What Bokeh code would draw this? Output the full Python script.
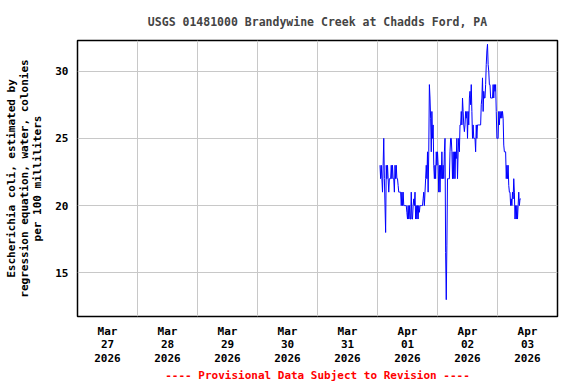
import pandas as pd
from bokeh.plotting import figure
from bokeh.models import FixedTicker, Range1d
from bokeh.embed import file_html
from bokeh.resources import INLINE

# E. coli estimate, 15-minute values starting 2026-04-01 01:00
values = [
    23, 22, 23, 22, 21, 23, 25, 22,
    20, 18, 23, 22, 23, 22, 21, 22,
    22, 22, 23, 22, 23, 22, 22, 21,
    23, 22, 23, 22, 22, 21.5, 21, 21,
    21, 21, 20, 21, 20, 21, 20, 20,
    20, 20, 20, 19.5, 19, 20, 19, 20,
    19, 19, 21, 19, 19, 20, 20.5, 20,
    21, 19, 20, 19, 20, 19, 20, 19.5,
    20, 20, 20, 20, 20, 20.5, 21, 20,
    21, 22, 23, 22, 24, 21, 24, 29,
    28, 26.5, 24, 27, 25, 26, 23, 22,
    23, 22, 24, 23, 24, 23, 21, 23,
    21, 23, 22, 24, 22, 23, 22, 24,
    25, 16.5, 13, 17, 22, 22, 22, 22,
    24, 25, 25, 24, 22, 24, 22, 24,
    22, 24, 23.5, 25, 22, 24, 25, 24,
    26, 26, 27, 26, 28, 27, 26, 25.5,
    26, 27, 26.5, 27, 25, 27, 26, 28,
    28.5, 27.5, 29, 27, 25, 26, 25, 25,
    25, 24, 26, 25, 26, 26, 26, 26,
    26, 26, 27.5, 28, 29.5, 27, 28.5, 28,
    28, 29, 30.5, 31.5, 32, 30.5, 30, 29,
    29, 28, 28, 28, 28, 29, 28, 29,
    28.5, 29, 27, 25, 25, 25, 27, 26,
    27, 26.5, 27, 26.5, 27, 26.5, 24.5, 24,
    24, 24, 22, 23, 22, 23, 21.5, 21,
    21, 20, 20.5, 20, 21, 20.5, 22, 21,
    19, 20, 19, 20, 19, 20, 21, 20,
    20.5, 20.5,
]
start_time = "2026-04-01 01:00"
times = pd.date_range(start_time, periods=len(values), freq="15min")

day_labels = ["Mar\n27\n2026", "Mar\n28\n2026", "Mar\n29\n2026", "Mar\n30\n2026",
              "Mar\n31\n2026", "Apr\n01\n2026", "Apr\n02\n2026", "Apr\n03\n2026"]
days = pd.date_range("2026-03-27", periods=8, freq="D")
y_ticks = [15, 20, 25, 30]

def ms(t):
    return pd.Timestamp(t).value / 1e6

noon_ticks = [ms(d + pd.Timedelta(hours=12)) for d in days]
midnight_ticks = [ms(d) for d in days[1:]]

FONT = "DejaVu Sans Mono"

p = figure(
    x_axis_type="datetime",
    width=576, height=384,
    min_border_left=77, min_border_right=19, min_border_top=40, min_border_bottom=68,
    output_backend="svg", toolbar_location=None,
    title="USGS 01481000 Brandywine Creek at Chadds Ford, PA",
)
p.x_range = Range1d(ms("2026-03-27"), ms("2026-04-04"))
p.y_range = Range1d(11.75, 32.28)

p.line([ms(t) for t in times], values, line_color="#0000ff", line_width=1)

p.title.align = "center"
p.title.text_font = FONT
p.title.text_font_size = "11.5px"
p.title.text_font_style = "bold"
p.title.standoff = 23

p.outline_line_color = "black"
p.outline_line_width = 1.5
p.outline_line_alpha = 1

p.xaxis.ticker = FixedTicker(ticks=noon_ticks)
p.xaxis.major_label_overrides = {t: lab for t, lab in zip(noon_ticks, day_labels)}
p.xgrid.ticker = FixedTicker(ticks=midnight_ticks)
p.yaxis.ticker = FixedTicker(ticks=y_ticks)

for ax in (p.xaxis[0], p.yaxis[0]):
    ax.axis_line_color = None
    ax.major_tick_line_color = None
    ax.minor_tick_line_color = None
    ax.major_tick_out = 0
    ax.major_tick_in = 0
    ax.minor_tick_out = 0
    ax.minor_tick_in = 0
    ax.major_label_text_font = FONT
    ax.major_label_text_font_size = "11px"
    ax.major_label_text_font_style = "bold"
    ax.major_label_text_color = "black"
    ax.major_label_text_line_height = 1.05
    ax.axis_label_text_font = FONT
    ax.axis_label_text_font_size = "11px"
    ax.axis_label_text_font_style = "bold"
    ax.axis_label_text_line_height = 1.0

p.xaxis.major_label_standoff = 8
p.yaxis.major_label_standoff = 9
p.xaxis.axis_label = "---- Provisional Data Subject to Revision ----"
p.xaxis.axis_label_text_color = "red"
p.xaxis.axis_label_standoff = 1
p.yaxis.axis_label = "Escherichia coli, estimated by\nregression equation, water, colonies\nper 100 milliliters"
p.yaxis.axis_label_text_color = "black"
p.yaxis.axis_label_standoff = 8

p.grid.grid_line_color = "#c8c8c8"
p.grid.grid_line_width = 1

open("out.html", "w").write(file_html(p, INLINE))
